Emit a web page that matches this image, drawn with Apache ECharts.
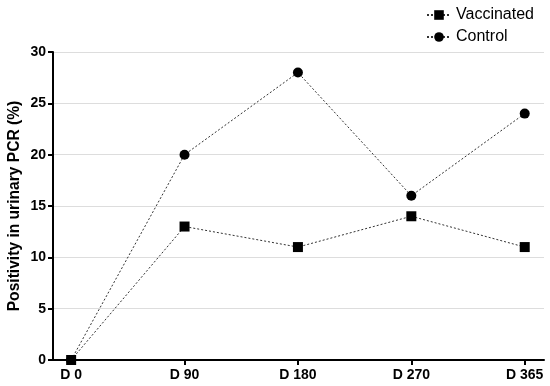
<!DOCTYPE html>
<html><head><meta charset="utf-8">
<script src="https://cdn.jsdelivr.net/npm/echarts@6/dist/echarts.min.js"></script>
<style>html,body{margin:0;padding:0;background:#fff}#c{width:550px;height:386px}</style>
</head><body><div id="c"></div>
<script>
const categories = ['D 0', 'D 90', 'D 180', 'D 270', 'D 365'];
const vaccinated = [0, 13, 11, 14, 11];
const control = [0, 20, 28, 16, 24];
const yTicks = [0, 5, 10, 15, 20, 25, 30];

const chart = echarts.init(document.getElementById('c'));
const font = 'Arial, "Liberation Sans", sans-serif';
chart.setOption({
  animation: false,
  grid: { left: 53, right: 6, top: 52, bottom: 26, outerBoundsMode: 'none', containLabel: false },
  legend: {
    orient: 'vertical', left: 421, top: 2, itemGap: 6,
    itemWidth: 24, itemHeight: 12,
    textStyle: { fontFamily: font, fontSize: 16, color: '#000' },
    data: ['Vaccinated', 'Control']
  },
  xAxis: {
    type: 'value', min: -0.16, max: 4.17,
    axisLine: { show: true, onZero: false, lineStyle: { color: '#000', width: 2 } },
    axisTick: { show: true, customValues: [0,1,2,3,4], length: 5, lineStyle: { color: '#000', width: 2 } },
    axisLabel: { customValues: [0,1,2,3,4], formatter: v => categories[Math.round(v)] || '',
      fontFamily: font, fontSize: 14, fontWeight: 'bold', color: '#000', margin: 8 },
    splitLine: { show: false }
  },
  yAxis: {
    type: 'value', min: 0, max: 30, interval: 5,
    name: 'Positivity in urinary PCR (%)', nameLocation: 'middle', nameGap: 30, nameMoveOverlap: false,
    nameTextStyle: { fontFamily: font, fontSize: 15.6, fontWeight: 'bold', color: '#000' },
    axisLine: { show: true, onZero: false, lineStyle: { color: '#000', width: 2 } },
    axisTick: { show: true, length: 5, lineStyle: { color: '#000', width: 2 } },
    axisLabel: { fontFamily: font, fontSize: 14, fontWeight: 'bold', color: '#000', margin: 7 },
    splitLine: { show: true, lineStyle: { color: '#ddd', width: 1 } }
  },
  series: [
    { name: 'Vaccinated', type: 'line', data: vaccinated.map((v,i)=>[i,v]),
      symbol: 'rect', symbolSize: 10, itemStyle: { color: '#000' },
      lineStyle: { color: '#333', width: 1, type: [2, 2] } },
    { name: 'Control', type: 'line', data: control.map((v,i)=>[i,v]),
      symbol: 'circle', symbolSize: 10, itemStyle: { color: '#000' },
      lineStyle: { color: '#333', width: 1, type: [2, 2] } }
  ]
});
</script></body></html>
